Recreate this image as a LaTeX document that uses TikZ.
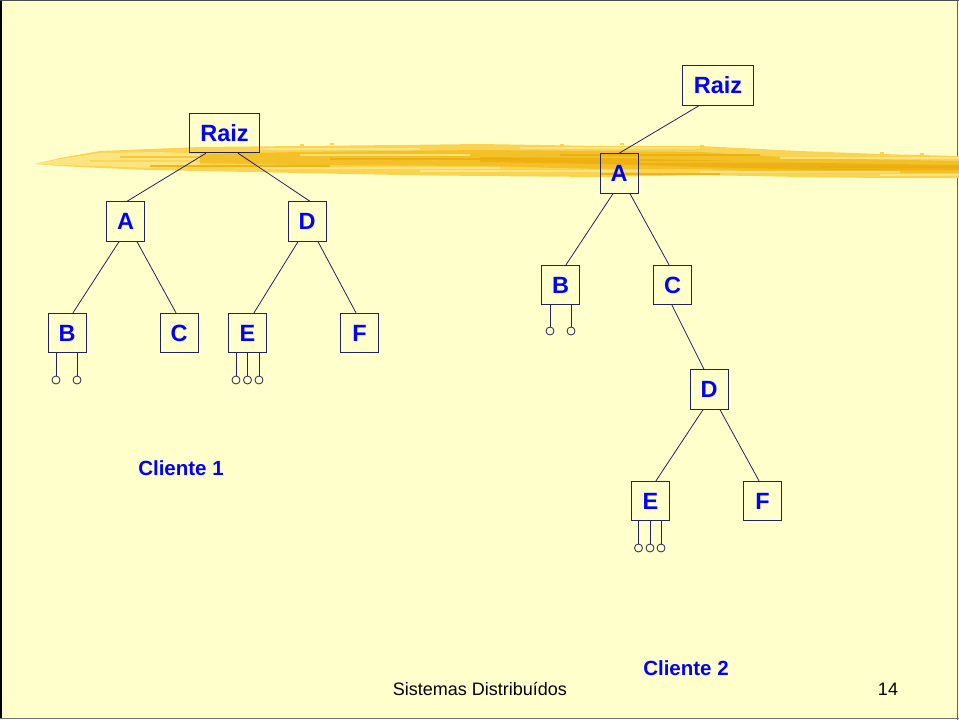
\documentclass[tikz,border=0pt]{standalone}
\usepackage{fontspec}
\setmainfont{Liberation Sans}
\definecolor{paper}{RGB}{255,255,204}
\definecolor{edgecol}{RGB}{35,35,95}
\definecolor{labelblue}{RGB}{0,0,255}
\definecolor{brushA}{RGB}{250,212,80}
\definecolor{brushB}{RGB}{244,192,40}
\definecolor{brushC}{RGB}{253,232,140}
\definecolor{brushD}{RGB}{236,172,10}
\tikzset{
  tbox/.style={draw=edgecol, line width=0.9pt, inner sep=0pt,
    text=labelblue, font=\bfseries\fontsize{23.5}{27}\selectfont},
  sq/.style={tbox, minimum width=38pt, minimum height=39.5pt},
  wide/.style={tbox, minimum width=70.5pt, minimum height=39.5pt},
  link/.style={draw=edgecol, line width=0.8pt},
  ptr/.style={circle, draw=edgecol, line width=0.8pt, minimum size=8pt, inner sep=0pt},
  client/.style={text=labelblue, font=\bfseries\fontsize{20.5}{24}\selectfont},
  footer/.style={text=black, font=\fontsize{18}{22}\selectfont}
}
\begin{document}
\begin{tikzpicture}[x=1pt,y=-1pt]
% page background and frame
\fill[paper] (0,0) rectangle (959,720);
\useasboundingbox (0,0) rectangle (959,720);
\draw[black, line width=2pt] (1,1) -- (1,719);
\draw[black!70, line width=1pt] (0,0.5) -- (959,0.5);
\draw[black!60, line width=1.2pt] (957.5,0) -- (957.5,720);
\draw[black!55, line width=1.2pt] (0,718.5) -- (959,718.5);

% brush stroke across the page
\fill[brushA] (35,164) -- (60,158) -- (100,151) -- (150,149) -- (200,147) -- (300,146)
  -- (400,145) -- (480,144) -- (600,146) -- (700,146) -- (760,149) -- (800,151)
  -- (880,154) -- (959,156) -- (959,178) -- (880,178) -- (800,177) -- (700,175)
  -- (600,177) -- (480,176) -- (400,175) -- (300,173) -- (200,171) -- (150,170)
  -- (100,168) -- (60,166) -- cycle;
\fill[brushC, opacity=0.8] (35,164) -- (60,159) -- (100,153) -- (160,152) -- (200,154)
  -- (200,165) -- (150,168) -- (100,166) -- (60,165) -- cycle;
\fill[brushB] (200,154) -- (300,152) -- (480,150) -- (600,151) -- (700,152) -- (800,158)
  -- (959,161) -- (959,173) -- (800,173) -- (700,169) -- (600,169) -- (480,166)
  -- (300,165) -- (200,163) -- cycle;
\fill[brushD, opacity=0.7] (480,157) -- (600,158) -- (700,160) -- (820,163) -- (959,165)
  -- (959,170) -- (820,170) -- (700,167) -- (600,164) -- (480,162) -- cycle;
% streaks giving the bristle texture
\foreach \xa/\xb/\yy/\c in {
  120/260/157/brushB, 90/200/161/brushA, 260/420/149/brushC, 300/470/155/brushC,
  330/520/159/brushD, 260/500/168/brushC, 420/640/171/brushC, 520/700/148/brushC,
  560/760/155/brushD, 640/860/162/brushB, 700/900/172/brushC, 780/959/158/brushC,
  820/959/167/brushD, 880/959/175/brushC, 150/330/166/brushD, 600/720/174/brushD}
  {\draw[\c, line width=1.6pt, opacity=0.8] (\xa,\yy) -- (\xb,\yy);}
\foreach \px/\py in {300/144,330/143,540/145,560/144,620/143,700/145,880/152,920/153}
  {\fill[brushA] (\px,\py) rectangle ++(4,2);}

% client 1 tree
\node[wide] (r1) at (224.5,133) {Raiz};
\node[sq] (a1) at (125.5,221.5) {A};
\node[sq] (d1) at (307,221.5) {D};
\node[sq] (b1) at (67,333) {B};
\node[sq] (c1) at (179,333) {C};
\node[sq] (e1) at (247.5,333) {E};
\node[sq] (f1) at (359.5,333) {F};

\draw[link] ([xshift=-18.5pt]r1.south) -- ([xshift=1.5pt]a1.north);
\draw[link] ([xshift=13.5pt]r1.south) -- ([xshift=3pt]d1.north);
\draw[link] ([xshift=-6.5pt]a1.south) -- ([xshift=6pt]b1.north);
\draw[link] ([xshift=11.5pt]a1.south) -- ([xshift=-3pt]c1.north);
\draw[link] ([xshift=-9pt]d1.south) -- ([xshift=6.5pt]e1.north);
\draw[link] ([xshift=11pt]d1.south) -- ([xshift=-3.5pt]f1.north);

\node[ptr] (b1p1) at (56,380) {};
\node[ptr] (b1p2) at (77,380) {};
\node[ptr] (e1p1) at (236,380) {};
\node[ptr] (e1p2) at (247.5,380) {};
\node[ptr] (e1p3) at (259,380) {};
\foreach \p in {b1p1,b1p2} {\draw[link] (\p |- b1.south) -- (\p.north);}
\foreach \p in {e1p1,e1p2,e1p3} {\draw[link] (\p |- e1.south) -- (\p.north);}

\node[client] (cl1) at (181,468) {Cliente 1};

% client 2 tree
\node[wide] (r2) at (718,85.5) {Raiz};
\node[sq] (a2) at (619,173.5) {A};
\node[sq] (b2) at (560.5,285) {B};
\node[sq] (c2) at (672.5,285) {C};
\node[sq] (d2) at (709,389.5) {D};
\node[sq] (e2) at (650.5,501) {E};
\node[sq] (f2) at (762.5,501) {F};

\draw[link] ([xshift=-19pt]r2.south) -- (a2.north);
\draw[link] ([xshift=-6pt]a2.south) -- ([xshift=5.5pt]b2.north);
\draw[link] ([xshift=11pt]a2.south) -- ([xshift=-3.5pt]c2.north);
\draw[link] ([xshift=-0.5pt]c2.south) -- ([xshift=-5pt]d2.north);
\draw[link] ([xshift=-6pt]d2.south) -- ([xshift=5.5pt]e2.north);
\draw[link] ([xshift=11pt]d2.south) -- ([xshift=-3.5pt]f2.north);

\node[ptr] (b2p1) at (550,331) {};
\node[ptr] (b2p2) at (571,331) {};
\node[ptr] (e2p1) at (638.5,548) {};
\node[ptr] (e2p2) at (650,548) {};
\node[ptr] (e2p3) at (661,548) {};
\foreach \p in {b2p1,b2p2} {\draw[link] (\p |- b2.south) -- (\p.north);}
\foreach \p in {e2p1,e2p2,e2p3} {\draw[link] (\p |- e2.south) -- (\p.north);}

\node[client] (cl2) at (686,668) {Cliente 2};

% footer
\node[footer] (foot) at (480,689) {Sistemas Distribuídos};
\node[footer] (page) at (888,689) {14};
\end{tikzpicture}
\end{document}
